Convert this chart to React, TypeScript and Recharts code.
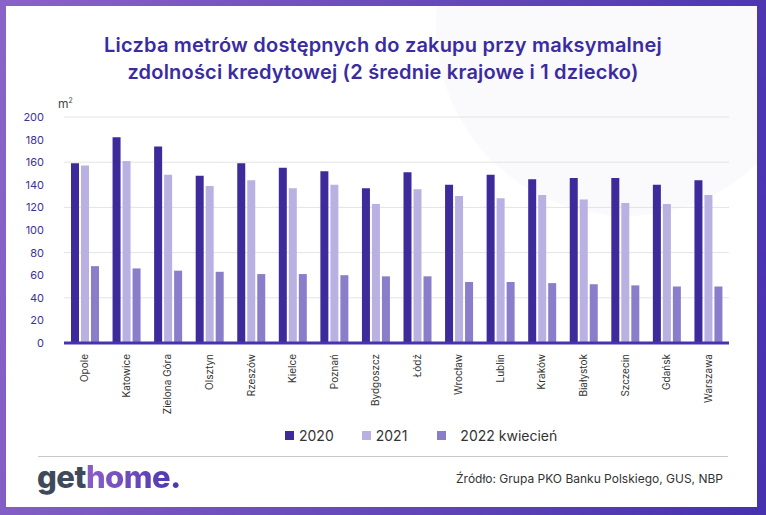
import { BarChart, Bar, XAxis, YAxis, CartesianGrid } from 'recharts';

// Metry kwadratowe możliwe do kupienia przy maksymalnej zdolności kredytowej
const cities = ['Opole', 'Katowice', 'Zielona Góra', 'Olsztyn', 'Rzeszów', 'Kielce', 'Poznań', 'Bydgoszcz', 'Łódź', 'Wrocław', 'Lublin', 'Kraków', 'Białystok', 'Szczecin', 'Gdańsk', 'Warszawa'];
const values2020 = [159, 182, 174, 148, 159, 155, 152, 137, 151, 140, 149, 145, 146, 146, 140, 144];
const values2021 = [157, 161, 149, 139, 144, 137, 140, 123, 136, 130, 128, 131, 127, 124, 123, 131];
const values2022 = [68, 66, 64, 63, 61, 61, 60, 59, 59, 54, 54, 53, 52, 51, 50, 50];
const yTicks = [0, 20, 40, 60, 80, 100, 120, 140, 160, 180, 200];

const SERIES = [
    { key: 'y2020', name: '2020', color: '#3d2a9b' },
    { key: 'y2021', name: '2021', color: '#b9b1e1' },
    { key: 'y2022', name: '2022 kwiecień', color: '#8a7ecb' },
];

const chartData = cities.map((city, i) => ({
    city,
    y2020: values2020[i],
    y2021: values2021[i],
    y2022: values2022[i],
}));

const FONT = "Inter, 'Noto Sans', sans-serif";

function CityTick({ x, y, payload }: any) {
    return (
        <g transform={`translate(${x},${y})`}>
            <text transform="rotate(-90)" textAnchor="end" dy="0.35em" fill="#333" fontSize={10}>
                {payload.value}
            </text>
        </g>
    );
}

export default function App() {
    return (
        <div style={{
            position: 'absolute', left: 0, top: 0, width: 766, height: 515, overflow: 'hidden',
            background: 'linear-gradient(100deg, #8a63c8 0%, #6a4cbc 45%, #4631ae 100%)',
            fontFamily: FONT,
        }}>
            <div style={{ position: 'absolute', left: 6, top: 6, width: 751, height: 501, background: '#fff', overflow: 'hidden' }}>
                <div style={{ position: 'absolute', left: 430, top: -170, width: 380, height: 380, borderRadius: '50%', background: 'rgba(240,238,247,0.35)' }} />
            </div>

            <div style={{ position: 'absolute', left: 0, top: 32, width: 766, textAlign: 'center', color: '#3a2ca0', fontSize: 20, fontWeight: 600, lineHeight: '27px', letterSpacing: 0.2 }}>
                Liczba metrów dostępnych do zakupu przy maksymalnej<br />
                zdolności kredytowej (2 średnie krajowe i 1 dziecko)
            </div>

            <div style={{ position: 'absolute', left: 58, top: 96, fontSize: 12, color: '#444' }}>
                m<sup style={{ fontSize: 7 }}>2</sup>
            </div>

            <BarChart
                width={766}
                height={515}
                data={chartData}
                margin={{ top: 117, right: 37, bottom: 112, left: 34 }}
                barSize={8}
                barGap={2}
                style={{ position: 'absolute', left: 0, top: 0 }}
            >
                <CartesianGrid vertical={false} stroke="#e4e4e4" />
                <XAxis
                    dataKey="city"
                    height={60}
                    interval={0}
                    tick={<CityTick />}
                    tickLine={false}
                    tickSize={6}
                    tickMargin={5}
                    axisLine={{ stroke: '#4634ae', strokeWidth: 3 }}
                />
                <YAxis
                    width={30}
                    domain={[0, 200]}
                    ticks={yTicks}
                    axisLine={false}
                    tickLine={false}
                    tickSize={0}
                    tickMargin={20}
                    tick={{ fill: '#3e3296', fontSize: 11 }}
                />
                {SERIES.map(s => (
                    <Bar key={s.key} dataKey={s.key} name={s.name} fill={s.color} isAnimationActive={false} />
                ))}
            </BarChart>

            <div style={{ position: 'absolute', left: 285, top: 427, display: 'flex', alignItems: 'center', fontSize: 14, color: '#333' }}>
                {SERIES.map((s, i) => (
                    <div key={s.key} style={{ display: 'flex', alignItems: 'center', marginRight: i === 0 ? 28 : 30 }}>
                        <span style={{ width: 9, height: 9, background: s.color, marginRight: i === 2 ? 14 : 5 }} />
                        <span>{s.name}</span>
                    </div>
                ))}
            </div>

            <div style={{ position: 'absolute', left: 38, top: 456, width: 690, height: 1, background: '#c9c9c9' }} />

            <div style={{ position: 'absolute', left: 37, top: 458, fontSize: 31, fontWeight: 800, letterSpacing: -0.5 }}>
                <span style={{ color: '#3e4a5b' }}>get</span>
                <span style={{
                    background: 'linear-gradient(90deg, #8b5ec9, #4a35b0)',
                    WebkitBackgroundClip: 'text', backgroundClip: 'text', color: 'transparent',
                }}>home.</span>
            </div>

            <div style={{ position: 'absolute', right: 43, top: 471, fontSize: 12, color: '#333' }}>
                Źródło: Grupa PKO Banku Polskiego, GUS, NBP
            </div>
        </div>
    );
}
